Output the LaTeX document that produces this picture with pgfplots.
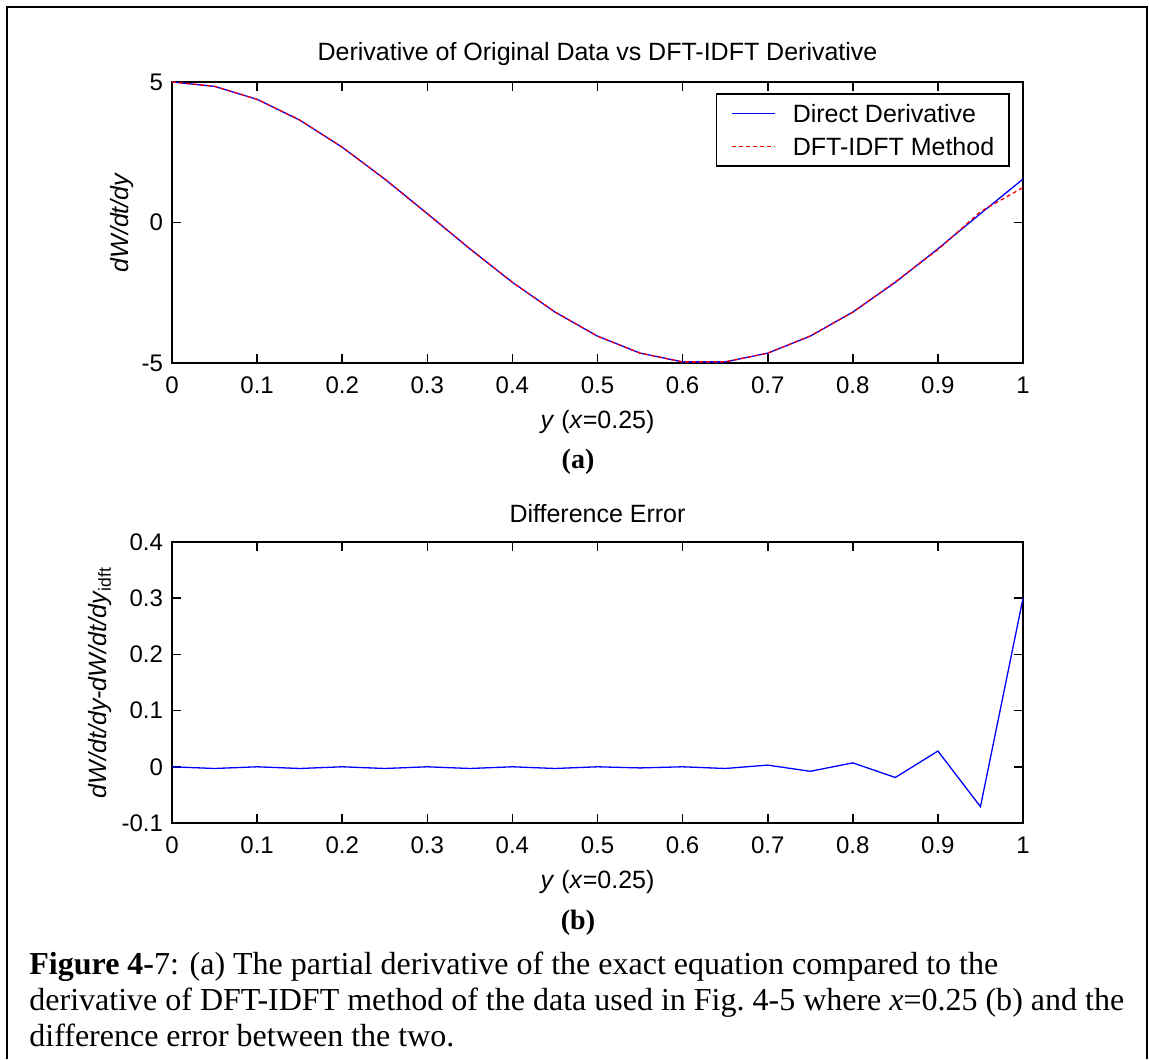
\documentclass[border=0pt]{standalone}
\usepackage{fontspec}
\setmainfont{Liberation Serif}
\newfontfamily\mfont{Liberation Sans}
\usepackage{pgfplots}
\pgfplotsset{compat=1.18}
\newcommand{\mtext}{\mfont\fontsize{12}{14}\selectfont}
\newcommand{\mtextb}{\mfont\fontsize{12.5}{14}\selectfont}

\pgfplotsset{mstyle/.style={
  scale only axis, width=425.5pt, height=140.5pt,
  xmin=0, xmax=1,
  axis line style={line width=0.8pt},
  every tick/.style={line width=0.8pt, black},
  major tick length=4.5pt, tick align=inside,
  xtick={0,0.1,0.2,0.3,0.4,0.5,0.6,0.7,0.8,0.9,1},
  xticklabels={0,0.1,0.2,0.3,0.4,0.5,0.6,0.7,0.8,0.9,1},
  ticklabel style={font=\mtext},
  xticklabel style={yshift=-3.5pt},
  yticklabel style={xshift=-1pt},
  title style={font=\mtextb, at={(0.5,1)}, anchor=center, yshift=8pt},
  xlabel style={font=\mtextb, at={(0.5,0)}, anchor=center, yshift=-29.5pt},
  ylabel style={font=\mtextb, at={(0,0.5)}, anchor=center},
  xlabel={\textit{y} (\textit{x}=0.25)},
}}

\begin{document}
\begin{tikzpicture}
\useasboundingbox (0pt,0pt) rectangle (574.5pt,529.5pt);
\draw[line width=1.1pt] (3.5pt,0pt) -- (3.5pt,526pt) -- (573.5pt,526pt) -- (573.5pt,0pt);

\begin{axis}[mstyle,
  at={(86pt,348pt)}, anchor=south west,
  ymin=-5, ymax=5, ytick={-5,0,5}, yticklabels={-5,0,5},
  title={Derivative of Original Data vs DFT-IDFT Derivative},
  ylabel={\textit{dW/dt/dy}}, ylabel style={yshift=25pt},
  legend style={at={(rel axis cs:1,1)}, anchor=north east, xshift=-6.5pt, yshift=-5.5pt,
    draw=black, line width=0.8pt, font=\mtextb, inner xsep=7.5pt, inner ysep=5.4pt,
    nodes={inner sep=0pt, text depth=0pt}, column sep=8.5pt, row sep=7.2pt},
  legend cell align=left,
  legend image code/.code={\draw[#1] (0pt,0pt) -- (21.5pt,0pt);},
]
\addplot[blue, line width=0.65pt] coordinates {
(0,5.000) (0.05,4.843) (0.1,4.382) (0.15,3.645) (0.2,2.679) (0.25,1.545) (0.3,0.314)
(0.35,-0.937) (0.4,-2.129) (0.45,-3.187) (0.5,-4.045) (0.55,-4.649) (0.6,-4.961)
(0.65,-4.961) (0.7,-4.649) (0.75,-4.045) (0.8,-3.187) (0.85,-2.129) (0.9,-0.937)
(0.95,0.314) (1,1.545)};
\addlegendentry{Direct Derivative}
\addplot[red, line width=0.65pt, dash pattern=on 2pt off 1.5pt] coordinates {
(0,5.000) (0.05,4.846) (0.1,4.382) (0.15,3.648) (0.2,2.679) (0.25,1.548) (0.3,0.314)
(0.35,-0.934) (0.4,-2.129) (0.45,-3.184) (0.5,-4.045) (0.55,-4.647) (0.6,-4.961)
(0.65,-4.958) (0.7,-4.652) (0.75,-4.037) (0.8,-3.194) (0.85,-2.110) (0.9,-0.965)
(0.95,0.385) (1,1.245)};
\addlegendentry{DFT-IDFT Method}
\end{axis}

\begin{axis}[mstyle,
  at={(86pt,118pt)}, anchor=south west,
  ymin=-0.1, ymax=0.4, ytick={-0.1,0,0.1,0.2,0.3,0.4},
  yticklabels={-0.1,0,0.1,0.2,0.3,0.4},
  title={Difference Error},
  ylabel={\textit{dW/dt/dy-dW/dt/dy}\textsubscript{idft}}, ylabel style={yshift=36pt},
]
\addplot[blue, line width=0.65pt] coordinates {
(0,0.000) (0.05,-0.003) (0.1,0.000) (0.15,-0.003) (0.2,0.000) (0.25,-0.003) (0.3,0.000)
(0.35,-0.003) (0.4,0.000) (0.45,-0.003) (0.5,0.000) (0.55,-0.002) (0.6,0.000)
(0.65,-0.003) (0.7,0.003) (0.75,-0.008) (0.8,0.007) (0.85,-0.019) (0.9,0.028)
(0.95,-0.071) (1,0.300)};
\end{axis}

\node[font=\fontsize{14}{16}\selectfont\bfseries] at (289pt,298.5pt) {(a)};
\node[font=\fontsize{14}{16}\selectfont\bfseries] at (289pt,68pt) {(b)};
\node[anchor=base west, align=left, inner sep=0pt, font=\fontsize{16}{18}\selectfont]
  at (14.5pt,6.5pt) {\textbf{Figure 4-}7: (a) The partial derivative of the exact equation compared to the\\
derivative of DFT-IDFT method of the data used in Fig.~4-5 where \textit{x}=0.25 (b) and the\\
difference error between the two.};
\end{tikzpicture}
\end{document}
